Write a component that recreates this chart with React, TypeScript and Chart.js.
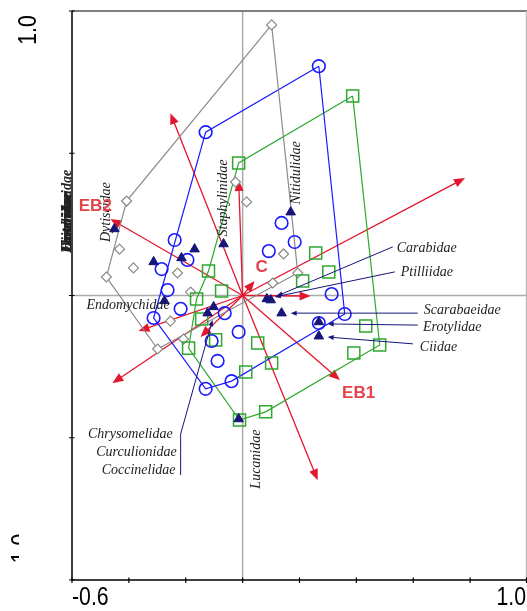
import React, { useEffect, useRef } from 'react';
import { Chart, registerables } from 'chart.js';
Chart.register(...registerables);

// ---- site scores (gray diamonds) ----
const grayX = [0.102, -0.408, -0.433, -0.384, -0.479, -0.229, -0.183, -0.025, 0.014, 0.144, 0.106, 0.194, -0.254, -0.208, -0.299];
const grayY = [0.951, 0.332, 0.163, 0.097, 0.065, 0.079, 0.012, 0.399, 0.329, 0.146, 0.044, 0.079, -0.090, -0.153, -0.188];
const grayHullX = [0.102, -0.408, -0.479, -0.299, 0.194, 0.102];
const grayHullY = [0.951, 0.332, 0.065, -0.188, 0.079, 0.951];

// ---- site scores (blue circles) ----
const blueX = [0.268, -0.130, -0.239, -0.194, -0.285, -0.264, -0.218, -0.313, -0.063, -0.014, -0.109, -0.088, -0.130, -0.039, 0.137, 0.183, 0.092, 0.313, 0.359, 0.268];
const blueY = [0.806, 0.574, 0.195, 0.125, 0.093, 0.019, -0.047, -0.079, -0.062, -0.128, -0.160, -0.230, -0.328, -0.301, 0.255, 0.188, 0.156, 0.005, -0.065, -0.097];
const blueHullX = [0.268, -0.130, -0.313, -0.130, -0.039, 0.359, 0.268];
const blueHullY = [0.806, 0.574, -0.079, -0.328, -0.301, -0.065, 0.806];

// ---- site scores (green squares) ----
const greenX = [0.387, -0.014, -0.120, -0.074, -0.162, -0.144, -0.190, -0.095, 0.053, 0.011, 0.102, -0.011, 0.081, 0.257, 0.303, 0.211, 0.433, 0.482, 0.391];
const greenY = [0.701, 0.466, 0.086, 0.016, -0.012, -0.083, -0.185, -0.156, -0.167, -0.269, -0.237, -0.438, -0.409, 0.149, 0.083, 0.051, -0.107, -0.174, -0.202];
const greenHullX = [0.387, -0.014, -0.120, -0.162, -0.190, -0.011, 0.081, 0.482, 0.387];
const greenHullY = [0.701, 0.466, 0.086, -0.012, -0.185, -0.438, -0.409, -0.174, 0.701];

// ---- species scores (navy triangles) ----
const speciesX = [-0.451, -0.313, -0.215, -0.169, -0.067, 0.169, -0.275, -0.102, -0.123, -0.014, 0.085, 0.099, 0.137, 0.268, 0.268];
const speciesY = [0.234, 0.118, 0.132, 0.163, 0.181, 0.293, -0.019, -0.040, -0.062, -0.434, -0.012, -0.016, -0.062, -0.093, -0.143];

// ---- environmental arrows ----
const envX = [-0.254, -0.465, -0.014, 0.042, 0.782, 0.239, 0.342, 0.264, -0.458, -0.366, -0.148];
const envY = [0.641, 0.269, 0.406, 0.051, 0.413, -0.002, -0.297, -0.649, -0.308, -0.125, -0.146];

// ---- text labels ----
const envLabels = ['EB2', 'C', 'EB1'];
const envLabelX = [-0.518, 0.067, 0.408];
const envLabelY = [0.315, 0.100, -0.343];

const vLabels = ['Dytiscidae', 'Staphylinidae', 'Nitidulidae', 'Lucanidae'];
const vLabelX = [-0.479, -0.067, 0.190, 0.049];
const vLabelY = [0.293, 0.343, 0.431, -0.575];

const hLabels = ['Carabidae', 'Ptilliidae', 'Scarabaeidae', 'Erotylidae', 'Ciidae', 'Endomychidae', 'Chrysomelidae', 'Curculionidae', 'Coccinelidae'];
const hLabelX = [0.542, 0.556, 0.637, 0.634, 0.623, -0.549, -0.246, -0.232, -0.236];
const hLabelY = [0.167, 0.083, -0.051, -0.111, -0.181, -0.033, -0.487, -0.550, -0.613];
const hLabelAlign = ['left', 'left', 'left', 'left', 'left', 'left', 'right', 'right', 'right'];

const stackedLabels = ['Elateridae', 'Tenebrionidae', 'Histeridae', 'Leiodidae'];

// leader lines: from label to species point
const leaderFromX = [0.528, 0.535, 0.616, 0.616, 0.599];
const leaderFromY = [0.171, 0.083, -0.062, -0.104, -0.170];
const leaderToX = [0.120, 0.113, 0.169, 0.299, 0.299];
const leaderToY = [-0.002, -0.005, -0.062, -0.100, -0.146];
const chrysoLeaderX = [-0.218, -0.218, -0.106];
const chrysoLeaderY = [-0.631, -0.487, -0.086];

const xTicks = [-0.6, -0.4, -0.2, 0, 0.2, 0.4, 0.6, 0.8, 1.0];
const yTicks = [-1.0, -0.5, 0, 0.5, 1.0];

const pts = (xs: number[], ys: number[]) => xs.map((x, i) => ({ x, y: ys[i] }));

const RED = '#e3162e';
const RED_TEXT = '#e5434c';
const NAVY = '#15157a';

function arrow(ctx: CanvasRenderingContext2D, x0: number, y0: number, x1: number, y1: number, color: string, lw: number, hl: number, hw: number) {
  const a = Math.atan2(y1 - y0, x1 - x0);
  ctx.strokeStyle = color;
  ctx.fillStyle = color;
  ctx.lineWidth = lw;
  ctx.beginPath();
  ctx.moveTo(x0, y0);
  ctx.lineTo(x1 - Math.cos(a) * hl * 0.6, y1 - Math.sin(a) * hl * 0.6);
  ctx.stroke();
  ctx.beginPath();
  ctx.moveTo(x1, y1);
  ctx.lineTo(x1 - Math.cos(a) * hl + Math.sin(a) * hw, y1 - Math.sin(a) * hl - Math.cos(a) * hw);
  ctx.lineTo(x1 - Math.cos(a) * hl - Math.sin(a) * hw, y1 - Math.sin(a) * hl + Math.cos(a) * hw);
  ctx.closePath();
  ctx.fill();
}

const decor = {
  id: 'decor',
  beforeDatasetsDraw(chart: any) {
    const { ctx, chartArea: ca, scales } = chart;
    const sx = scales.x, sy = scales.y;
    const ox = sx.getPixelForValue(0), oy = sy.getPixelForValue(0);
    ctx.save();
    // zero lines
    ctx.strokeStyle = '#ababab';
    ctx.lineWidth = 1.5;
    ctx.beginPath();
    ctx.moveTo(ox, ca.top); ctx.lineTo(ox, ca.bottom);
    ctx.moveTo(ca.left, oy); ctx.lineTo(ca.right, oy);
    ctx.stroke();
    // frame
    ctx.lineWidth = 1.5;
    ctx.strokeStyle = '#555';
    ctx.beginPath(); ctx.moveTo(ca.left, ca.top); ctx.lineTo(ca.right, ca.top); ctx.stroke();
    ctx.strokeStyle = '#bbb';
    ctx.beginPath(); ctx.moveTo(ca.right - 0.5, ca.top); ctx.lineTo(ca.right - 0.5, ca.bottom); ctx.stroke();
    ctx.strokeStyle = '#000';
    ctx.beginPath();
    ctx.moveTo(ca.left, ca.top); ctx.lineTo(ca.left, ca.bottom); ctx.lineTo(ca.right, ca.bottom);
    ctx.stroke();
    // ticks
    ctx.lineWidth = 1.2;
    ctx.beginPath();
    xTicks.forEach(t => { const p = Math.min(sx.getPixelForValue(t), ca.right - 0.5); ctx.moveTo(p, ca.bottom - 2.5); ctx.lineTo(p, ca.bottom + 3); });
    yTicks.forEach(t => { const p = sy.getPixelForValue(t); ctx.moveTo(ca.left - 3, p); ctx.lineTo(ca.left + 2.5, p); });
    ctx.stroke();
    // environmental arrows
    envX.forEach((x, i) => {
      arrow(ctx, ox, oy, sx.getPixelForValue(x), sy.getPixelForValue(envY[i]), RED, 1.3, 11, 4.5);
    });
    ctx.restore();
  },
  afterDatasetsDraw(chart: any) {
    const { ctx, chartArea: ca, scales } = chart;
    const sx = scales.x, sy = scales.y;
    ctx.save();
    // leader lines
    leaderFromX.forEach((x, i) => {
      arrow(ctx, sx.getPixelForValue(x), sy.getPixelForValue(leaderFromY[i]), sx.getPixelForValue(leaderToX[i]), sy.getPixelForValue(leaderToY[i]), NAVY, 1, 6, 2.5);
    });
    ctx.strokeStyle = NAVY; ctx.lineWidth = 1;
    ctx.beginPath();
    ctx.moveTo(sx.getPixelForValue(chrysoLeaderX[0]), sy.getPixelForValue(chrysoLeaderY[0]));
    ctx.lineTo(sx.getPixelForValue(chrysoLeaderX[1]), sy.getPixelForValue(chrysoLeaderY[1]));
    ctx.stroke();
    arrow(ctx, sx.getPixelForValue(chrysoLeaderX[1]), sy.getPixelForValue(chrysoLeaderY[1]), sx.getPixelForValue(chrysoLeaderX[2]), sy.getPixelForValue(chrysoLeaderY[2]), NAVY, 1, 6, 2.5);

    // species labels
    ctx.fillStyle = '#222';
    ctx.font = 'italic 14px "Liberation Serif", "Times New Roman", serif';
    ctx.textBaseline = 'middle';
    hLabels.forEach((t, i) => {
      ctx.textAlign = hLabelAlign[i] as CanvasTextAlign;
      ctx.fillText(t, sx.getPixelForValue(hLabelX[i]), sy.getPixelForValue(hLabelY[i]));
    });
    vLabels.forEach((t, i) => {
      ctx.save();
      ctx.translate(sx.getPixelForValue(vLabelX[i]), sy.getPixelForValue(vLabelY[i]));
      ctx.rotate(-Math.PI / 2);
      ctx.textAlign = 'center';
      ctx.fillText(t, 0, 0);
      ctx.restore();
    });
    // stacked, overlapping labels at left edge
    ctx.save();
    ctx.translate(sx.getPixelForValue(-0.615), sy.getPixelForValue(0.149));
    ctx.rotate(-Math.PI / 2);
    ctx.textAlign = 'left';
    ctx.font = 'italic bold 14px "Liberation Serif", "Times New Roman", serif';
    stackedLabels.forEach((t, i) => ctx.fillText(t, i * 0.6, 0));
    ctx.restore();

    // env labels
    ctx.fillStyle = RED_TEXT;
    ctx.font = 'bold 17px "Liberation Sans", Arial, sans-serif';
    ctx.textAlign = 'center';
    envLabels.forEach((t, i) => {
      ctx.fillText(t, sx.getPixelForValue(envLabelX[i]), sy.getPixelForValue(envLabelY[i]));
    });

    // axis labels (narrow sans)
    ctx.fillStyle = '#000';
    ctx.font = '25px "Liberation Sans", Arial, sans-serif';
    ctx.textBaseline = 'middle';
    const narrow = (t: string, x: number, y: number, align: CanvasTextAlign) => {
      ctx.save();
      ctx.translate(x, y);
      ctx.scale(0.85, 1);
      ctx.textAlign = align;
      ctx.fillText(t, 0, 0);
      ctx.restore();
    };
    narrow(String(xTicks[0].toFixed(1)), ca.left, 598, 'left');
    narrow(String(xTicks[xTicks.length - 1].toFixed(1)), ca.right - 1, 598, 'right');
    // y labels, rotated
    ctx.save();
    ctx.translate(29, sy.getPixelForValue(yTicks[yTicks.length - 1]) + 19);
    ctx.rotate(-Math.PI / 2);
    ctx.scale(0.85, 1);
    ctx.textAlign = 'center';
    ctx.fillText(yTicks[yTicks.length - 1].toFixed(1), 0, 0);
    ctx.restore();
    ctx.save();
    ctx.beginPath();
    ctx.rect(10, 530, 9, 40);
    ctx.clip();
    ctx.translate(22, sy.getPixelForValue(yTicks[0]) - 28);
    ctx.rotate(-Math.PI / 2);
    ctx.scale(0.85, 1);
    ctx.textAlign = 'center';
    ctx.fillText(yTicks[0].toFixed(1), 0, 0);
    ctx.restore();
    ctx.restore();
  },
};

export default function App() {
  const ref = useRef<HTMLCanvasElement>(null);
  useEffect(() => {
    const hull = (xs: number[], ys: number[], color: string) => ({
      data: pts(xs, ys), showLine: true, borderColor: color, borderWidth: 1.2, pointRadius: 0, fill: false, order: 10,
    });
    const chart = new Chart(ref.current as HTMLCanvasElement, {
      type: 'scatter',
      data: {
        datasets: [
          hull(grayHullX, grayHullY, '#8a8a8a'),
          hull(blueHullX, blueHullY, '#1a1aff'),
          hull(greenHullX, greenHullY, '#2ea82e'),
          { data: pts(grayX, grayY), pointStyle: 'rectRot', pointRadius: 5, borderColor: '#8a8a8a', backgroundColor: '#fff', borderWidth: 1.2, order: 5 },
          { data: pts(greenX, greenY), pointStyle: 'rect', pointRadius: 8.5, borderColor: '#2ea82e', backgroundColor: 'rgba(0,0,0,0)', borderWidth: 1.5, order: 4 },
          { data: pts(blueX, blueY), pointStyle: 'circle', pointRadius: 6.3, borderColor: '#1a1aff', backgroundColor: 'rgba(0,0,0,0)', borderWidth: 1.6, order: 3 },
          { data: pts(speciesX, speciesY), pointStyle: 'triangle', pointRadius: 5.5, borderColor: NAVY, backgroundColor: NAVY, borderWidth: 1, order: 1 },
        ] as any,
      },
      options: {
        responsive: false,
        animation: false,
        events: [],
        layout: { autoPadding: false, padding: { left: 0, top: 11, right: 0, bottom: 0 } },
        plugins: { legend: { display: false }, tooltip: { enabled: false } },
        scales: {
          x: {
            type: 'linear', min: -0.6, max: 1.0,
            grid: { display: false }, border: { display: false }, ticks: { display: false },
            afterFit: (s: any) => { s.height = 31; },
          },
          y: {
            type: 'linear', min: -1, max: 1,
            grid: { display: false }, border: { display: false }, ticks: { display: false },
            afterFit: (s: any) => { s.width = 72; },
          },
        },
      } as any,
      plugins: [decor],
    });
    return () => chart.destroy();
  }, []);
  return (
    <div style={{ position: 'absolute', left: 0, top: 0, width: 527, height: 611 }}>
      <canvas ref={ref} width={527} height={611} style={{ display: 'block' }} />
    </div>
  );
}
